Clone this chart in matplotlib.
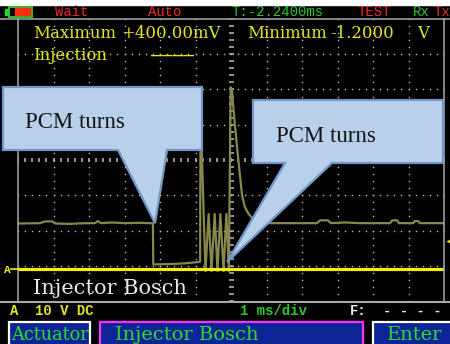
import matplotlib
matplotlib.use('Agg')
import matplotlib.pyplot as plt
from matplotlib.patches import Polygon, Rectangle
import numpy as np

# channel A sweep: time in ms, level in volts
time_ms = [0.00, 0.62, 0.76, 0.96, 1.07, 1.46, 1.89, 2.17, 2.25, 2.34, 2.65, 3.01, 3.44, 3.72,
           3.80, 3.81, 4.28, 4.70, 5.10, 5.13, 5.14, 5.16, 5.28, 5.37, 5.45, 5.54, 5.62, 5.70,
           5.79, 5.87, 5.94, 5.99, 6.03, 6.06, 6.11, 6.17, 6.23, 6.31, 6.39, 6.48, 6.59, 6.73,
           6.96, 7.38, 7.94, 8.42, 8.51, 8.73, 8.82, 9.21, 9.63, 10.06, 10.48, 10.54, 10.68,
           10.73, 11.13, 11.18, 11.27, 11.32, 12.00]
volts = [12.9, 13.0, 13.5, 13.5, 12.9, 12.8, 13.0, 13.0, 13.6, 13.0, 13.2, 13.0, 13.1, 13.0,
         13.0, 1.3, 1.4, 1.6, 2.0, 2.1, 39.0, 39.0, -0.6, 15.6, -0.6, 15.6, -0.6, 15.6,
         -0.6, 15.6, -0.6, 51.6, 50.8, 46.5, 40.9, 34.6, 28.7, 21.0, 17.6, 15.9, 14.5, 13.5,
         13.0, 13.0, 13.0, 13.0, 13.8, 13.8, 13.0, 13.2, 13.0, 13.0, 13.0, 13.8, 13.8,
         13.0, 13.0, 13.6, 13.6, 13.0, 13.0]

# zero reference trace
ref_time = [0.0, 12.0]
ref_volts = [0.0, 0.0]

trigger_level = 7.9
ms_per_div = 1
volts_per_div = 10
n_xdiv, n_ydiv = 12, 8
ground_div = 0.908

# where the callouts point (ms, V)
turn_on = (3.86, 13.0)
turn_off = (5.89, 2.0)
callout_text = 'PCM turns'

W, H = 450, 344
GRID = '#bdbdbd'
YELLOW = '#f0f010'
TXT_YELLOW = '#e6e61e'
OLIVE = '#88884c'
RED = '#f02828'
GREEN = '#2cc82c'
BTN_GREEN = '#2ae02a'
BTN_BLUE = '#0c2496'
EDGE = '#a8a8a8'

fig = plt.figure(figsize=(W / 100, H / 100), dpi=100, facecolor='black')

ax = fig.add_axes([18 / W, 1 - 301 / H, 426 / W, 282 / H])
ax.set_facecolor('black')
ax.set_xlim(0, n_xdiv * ms_per_div)
ax.set_ylim(-ground_div * volts_per_div, (n_ydiv - ground_div) * volts_per_div)
ax.set_xticks([])
ax.set_yticks([])
for side in ['top', 'bottom']:
    ax.spines[side].set_visible(False)
for side in ['left', 'right']:
    ax.spines[side].set_color(EDGE)
    ax.spines[side].set_linewidth(1.1)

x0, x1 = ax.get_xlim()
y0, y1 = ax.get_ylim()
dx = (x1 - x0) / n_xdiv
dy = (y1 - y0) / n_ydiv
xs = np.linspace(x0, x1, n_xdiv * 5 + 1)
ys = np.linspace(y0, y1, n_ydiv * 5 + 1)

# dotted graticule, five dots per division
for i in range(1, n_xdiv):
    if i == n_xdiv // 2:
        continue
    ax.plot(np.full_like(ys, x0 + i * dx), ys, ls='none', marker='s', ms=1.0,
            mec='none', mfc=GRID)
for j in range(1, n_ydiv):
    if j == n_ydiv // 2:
        continue
    ax.plot(xs, np.full_like(xs, y0 + j * dy), ls='none', marker='s', ms=1.0,
            mec='none', mfc=GRID)

# centre axes drawn as tick marks
ax.plot(np.full_like(ys, x0 + n_xdiv // 2 * dx), ys, ls='none', marker='_', ms=3.6,
        mew=1.1, color=GRID)
ax.plot(xs, np.full_like(xs, y0 + n_ydiv // 2 * dy), ls='none', marker='|', ms=2.9,
        mew=1.1, color=GRID)

ax.plot(time_ms, volts, color=OLIVE, lw=1.6, solid_joinstyle='round')
ax.plot(ref_time, ref_volts, color=YELLOW, lw=2.3)
ax.plot([x1 + 0.14 * dx], [trigger_level], marker='<', ms=5, color=YELLOW,
        mec='none', clip_on=False)

# overlay in pixel units for the screen furniture
ov = fig.add_axes([0, 0, 1, 1])
ov.set_xlim(0, W)
ov.set_ylim(H, 0)
ov.axis('off')
ov.patch.set_alpha(0)


def to_px(pt):
    return ov.transData.inverted().transform(ax.transData.transform(pt))


ov.add_patch(Rectangle((0, 0), W, 5, color='white'))
ov.plot([0, W], [19, 19], color=EDGE, lw=1.1)
ov.plot([0, W], [301.5, 301.5], color=EDGE, lw=1.5)

# battery
ov.add_patch(Rectangle((8.5, 6.5), 23.5, 10.5, fill=False, ec='#2cd22c', lw=1.3))
ov.add_patch(Rectangle((14.5, 8.2), 15.5, 7.2, color='#ff2a10'))
ov.add_patch(Rectangle((5, 9), 3.2, 5.5, color='#2cd22c'))

mono = 'Liberation Mono'
for x, s, c in [(55, 'Wait', RED), (148, 'Auto', RED), (232, 'T:-2.2400ms', GREEN),
                (358, 'TEST', RED), (413, 'Rx', GREEN), (433, 'Tx', RED)]:
    ov.text(x, 16.5, s, color=c, family=mono, fontsize=10, va='baseline')

# measurement readouts
for x, y, s in [(33, 38, 'Maximum'), (121, 38, '+400.00mV'),
                (247, 38, 'Minimum'), (330, 38, '-1.2000'), (417, 38, 'V'),
                (33, 60, 'Injection')]:
    ov.text(x, y, s, color=TXT_YELLOW, family='DejaVu Serif', fontsize=11.9,
            va='baseline')
ov.text(151, 61, '\u2013\u2013\u2013\u2013', color=TXT_YELLOW, family='DejaVu Sans Mono',
        fontsize=12.9, va='baseline')
ov.text(33, 294, 'Injector Bosch', color='#e8e8e8', family='DejaVu Serif',
        fontsize=15, va='baseline')

# channel marker on the left edge
gx, gy = to_px((x0, 0.0))
ov.text(4.5, gy + 4.5, 'A', color=YELLOW, family=mono, fontsize=8, va='baseline',
        weight='bold')
ov.plot([11, gx], [gy, gy], color=YELLOW, lw=1.2)

# status line under the screen
ov.text(10, 315, 'A', color=TXT_YELLOW, family=mono, fontsize=10, va='baseline',
        weight='bold')
ov.text(35, 315, '10 V DC', color=TXT_YELLOW, family=mono, fontsize=10,
        va='baseline', weight='bold')
ov.text(240, 315, '1 ms/div', color=GREEN, family=mono, fontsize=10, va='baseline',
        weight='bold')
ov.text(350, 315, 'F:', color='#e8e8e8', family=mono, fontsize=10, va='baseline',
        weight='bold')
ov.text(383, 315, '- - - -', color='#e8e8e8', family=mono, fontsize=10,
        va='baseline', weight='bold')

# soft keys
for (bx, bw, ec, label, tx, fs) in [(8.5, 81.5, 'white', 'Actuator', 11, 12.8),
                                    (99.5, 263, '#ff30ff', 'Injector Bosch', 115, 14),
                                    (372.5, 80, 'white', 'Enter', 387, 14)]:
    ov.add_patch(Rectangle((bx, 322), bw, 30, fc=BTN_BLUE, ec=ec, lw=1.6))
    ov.text(tx, 339.5, label, color=BTN_GREEN, family='DejaVu Serif', fontsize=fs,
            va='baseline')

# callouts
CALLOUT_FC = '#b9d0ea'
CALLOUT_EC = '#7198c6'


def callout(left, top, right, bottom, base_l, base_r, tip, tx, ty):
    pts = [(left, top), (right, top), (right, bottom), (base_r, bottom), tuple(tip),
           (base_l, bottom), (left, bottom)]
    ov.add_patch(Polygon(pts, closed=True, fc=CALLOUT_FC, ec=CALLOUT_EC, lw=1.6,
                         joinstyle='miter'))
    ov.text(tx, ty, callout_text, color='#141414', family='Liberation Serif',
            fontsize=16.5, va='baseline')


callout(3, 87, 202, 150, 118, 167, to_px(turn_on), 25, 128)
callout(253, 100, 443, 163, 285, 332, to_px(turn_off), 276, 142)

fig.savefig('out.png', dpi=100, facecolor='black')
